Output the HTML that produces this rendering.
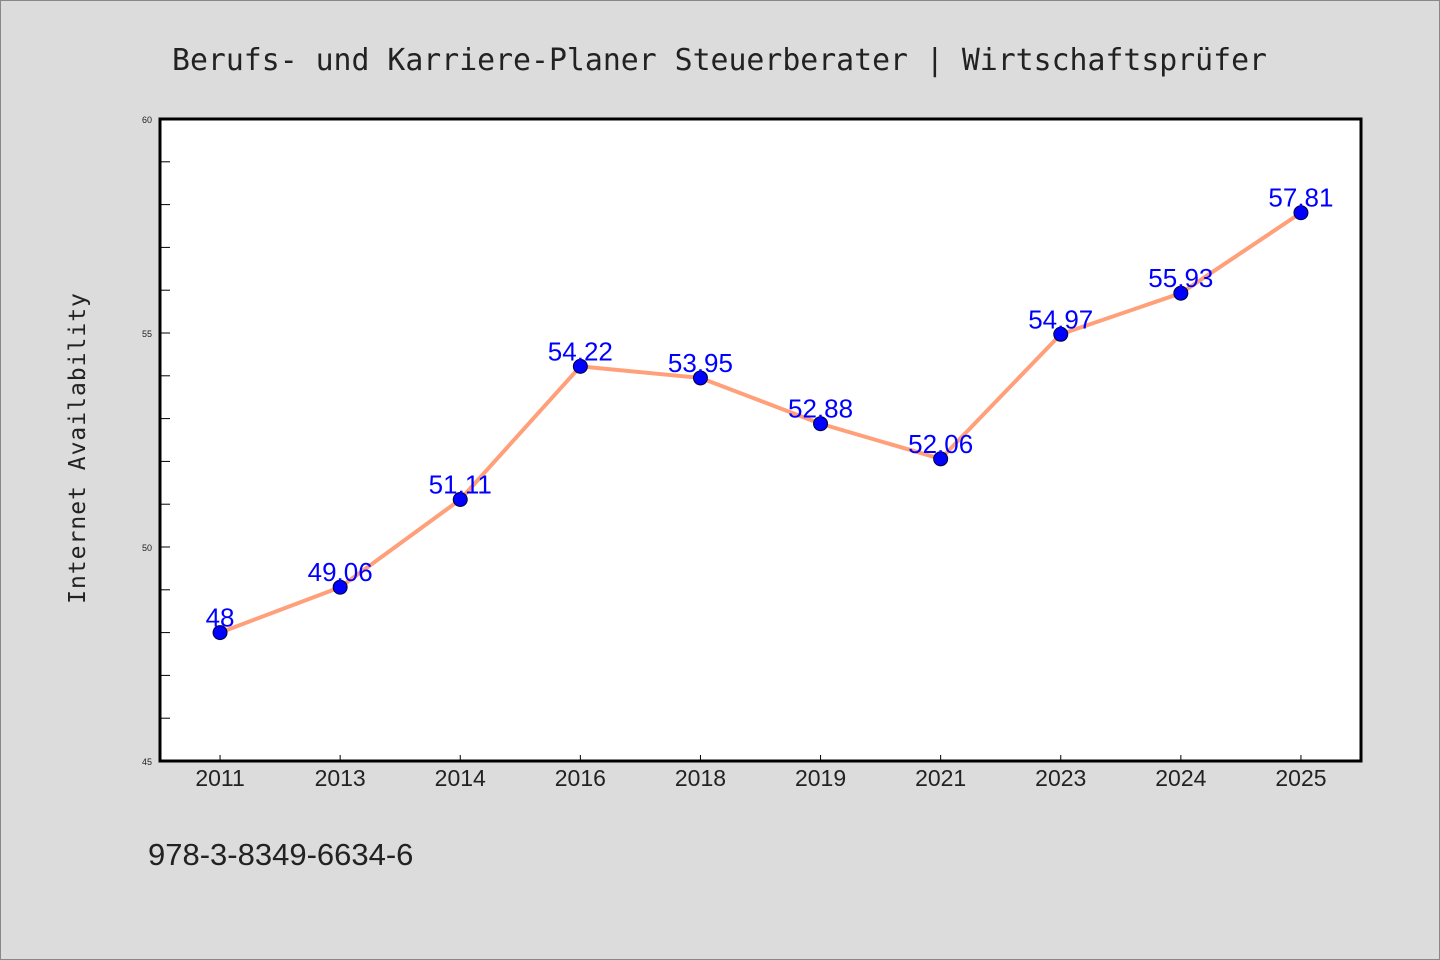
<!DOCTYPE html>
<html><head><meta charset="utf-8"><style>
html,body{margin:0;padding:0;background:#dcdcdc}
svg{display:block}
</style></head><body>
<svg id="chart" width="1440" height="960" xmlns="http://www.w3.org/2000/svg">
<rect x="0.5" y="0.5" width="1439" height="959" fill="#dcdcdc" stroke="#888"/>
<text x="172" y="70" font-family="'DejaVu Sans Mono','Liberation Mono',monospace" font-size="30" fill="#222" textLength="1095" lengthAdjust="spacingAndGlyphs">Berufs- und Karriere-Planer Steuerberater | Wirtschaftsprüfer</text>
<rect x="160" y="119" width="1201" height="642" fill="#fff"/>
<g id="axes"></g>
<g id="series"></g>
<rect x="160" y="119" width="1201" height="642" fill="none" stroke="#000" stroke-width="3"/>
<text transform="translate(85,448) rotate(-90)" text-anchor="middle" font-family="'DejaVu Sans Mono','Liberation Mono',monospace" font-size="23" fill="#222" letter-spacing="1">Internet Availability</text>
<text x="148" y="865" font-family="'Liberation Sans','Noto Sans CJK SC',sans-serif" font-size="31" fill="#222">978-3-8349-6634-6</text>
</svg>
<script>
const categories = ["2011","2013","2014","2016","2018","2019","2021","2023","2024","2025"];
const values = [48, 49.06, 51.11, 54.22, 53.95, 52.88, 52.06, 54.97, 55.93, 57.81];
const valueLabels = ["48","49.06","51.11","54.22","53.95","52.88","52.06","54.97","55.93","57.81"];
const yTicks = [45, 50, 55, 60];
const yMin = 45, yMax = 60;
const NS = "http://www.w3.org/2000/svg";
const L = 160, T = 119, W = 1201, H = 642;
const band = W / categories.length;
const x = i => L + band * (i + 0.5);
const y = v => T + H - (v - yMin) / (yMax - yMin) * H;
function mk(tag, attrs, parent){const e=document.createElementNS(NS,tag);for(const k in attrs)e.setAttribute(k,attrs[k]);parent.appendChild(e);return e;}
const axes = document.getElementById('axes'), series = document.getElementById('series');
for (let v = yMin + 1; v < yMax; v++) {
  const t = mk('line',{x1:L,x2:L+10,y1:y(v),y2:y(v),stroke:'#000','stroke-width':1},axes);
  
  
}
yTicks.forEach(v => {
  const t = mk('text',{x:152,y:y(v)+4,'text-anchor':'end','font-family':"'Liberation Sans',sans-serif",'font-size':9,fill:'#222'},axes);
  t.textContent = v;
  
  
});
categories.forEach((c,i) => {
  const t = mk('line',{x1:x(i),x2:x(i),y1:T+H,y2:T+H-6,stroke:'#000','stroke-width':1},axes);
  
  
  const lb = mk('text',{x:x(i),y:T+H+25,'text-anchor':'middle','font-family':"'Liberation Sans','Noto Sans CJK SC',sans-serif",'font-size':23,fill:'#222'},axes);
  lb.textContent = c;
  
  
});
const pl = mk('polyline',{points:values.map((v,i)=>x(i)+','+y(v)).join(' '),fill:'none',stroke:'#ffa07a','stroke-width':4,'stroke-linejoin':'round'},series);


values.forEach((v,i) => {
  const c = mk('circle',{cx:x(i),cy:y(v),r:7,fill:'#0000ff',stroke:'#000033','stroke-width':1},series);
  
  
});
values.forEach((v,i) => {
  const t = mk('text',{x:x(i),y:y(v)-6,'text-anchor':'middle','font-family':"'Liberation Sans','Noto Sans CJK SC',sans-serif",'font-size':26,fill:'#0000ff'},series);
  t.textContent = valueLabels[i];
  
  
});
</script>
</body></html>
